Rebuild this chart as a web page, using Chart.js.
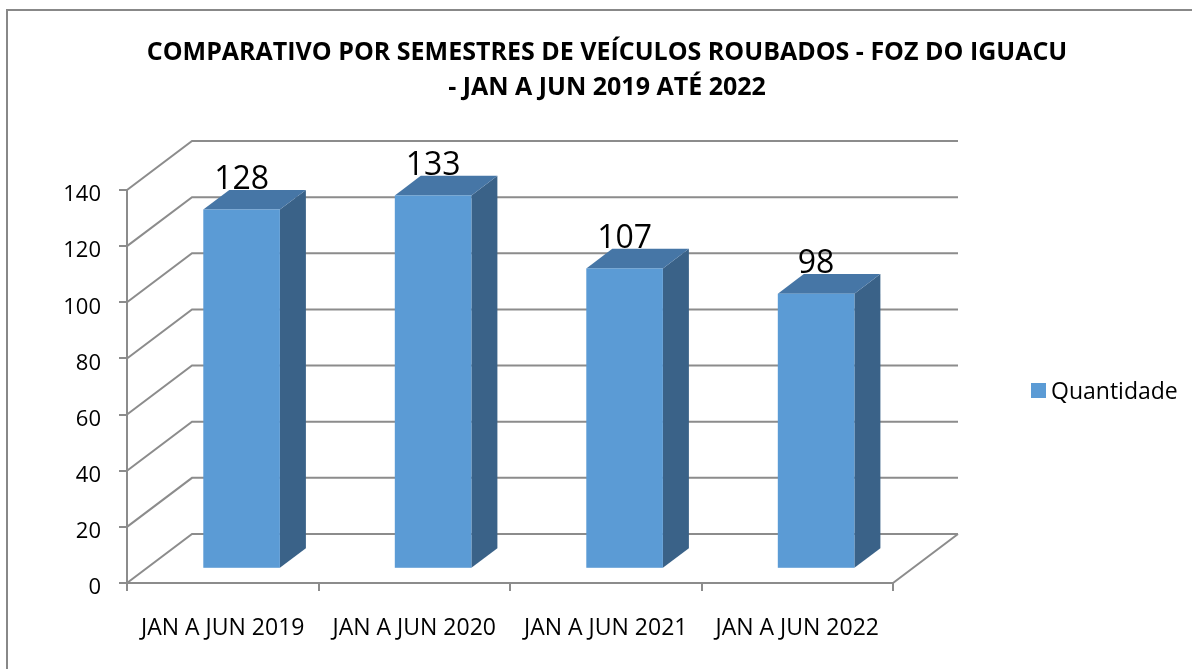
<!DOCTYPE html>
<html>
<head>
<meta charset="utf-8">
<script src="https://cdn.jsdelivr.net/npm/chart.js@4.4.1/dist/chart.umd.min.js"></script>
<style>
  html, body { margin: 0; padding: 0; background: #fff; }
  canvas { display: block; }
</style>
</head>
<body>
<canvas id="roubosChart" width="1192" height="669"></canvas>
<script>
// dados do grafico
const categorias = ['JAN A JUN 2019', 'JAN A JUN 2020', 'JAN A JUN 2021', 'JAN A JUN 2022'];
const quantidade = [128, 133, 107, 98];
const tituloLinhas = ['COMPARATIVO POR SEMESTRES DE VEÍCULOS ROUBADOS - FOZ DO IGUACU', '- JAN A JUN 2019 ATÉ 2022'];
const eixoY = { min: 0, max: 140, passo: 20 };

// aparencia 3d
const GRID = '#8c8c8c';
const DX = 65, DY = -49;       // profundidade da parede
const Z0 = 0.29, Z1 = 0.69;    // posicao das barras na profundidade
const FRONT = '#5B9BD5', TOPO = '#4676A6', LADO = '#3A6288';

const plot3d = {
  id: 'plot3d',
  beforeDraw(chart) {
    const ctx = chart.ctx;
    ctx.save();
    ctx.fillStyle = '#fff';
    ctx.fillRect(0, 0, chart.width, chart.height);
    ctx.strokeStyle = '#888';
    ctx.lineWidth = 2;
    ctx.strokeRect(7, 10, chart.width + 20, chart.height + 20);
    ctx.restore();
  },
  beforeDatasetsDraw(chart) {
    const { ctx, scales: { x, y } } = chart;
    ctx.save();
    // paredes e piso
    ctx.strokeStyle = GRID;
    ctx.lineWidth = 2;
    ctx.beginPath();
    y.ticks.forEach(t => {
      const py = y.getPixelForValue(t.value);
      ctx.moveTo(x.left, py);
      ctx.lineTo(x.left + DX, py + DY);
      ctx.lineTo(x.right + DX, py + DY);
    });
    ctx.moveTo(x.right, y.bottom);
    ctx.lineTo(x.right + DX, y.bottom + DY);
    ctx.stroke();

    // barras
    const meta = chart.getDatasetMeta(0);
    const valores = chart.data.datasets[0].data;
    const ox = Z0 * DX, oy = Z0 * DY;
    const dx = (Z1 - Z0) * DX, dy = (Z1 - Z0) * DY;
    meta.data.forEach((bar, i) => {
      const p = bar.getProps(['x', 'y', 'base', 'width']);
      const l = p.x - p.width / 2 + ox, r = p.x + p.width / 2 + ox;
      const t = p.y + oy, b = p.base + oy;

      ctx.fillStyle = LADO;
      ctx.beginPath();
      ctx.moveTo(r, t); ctx.lineTo(r + dx, t + dy);
      ctx.lineTo(r + dx, b + dy); ctx.lineTo(r, b);
      ctx.closePath(); ctx.fill();

      ctx.fillStyle = TOPO;
      ctx.beginPath();
      ctx.moveTo(l, t); ctx.lineTo(l + dx, t + dy);
      ctx.lineTo(r + dx, t + dy); ctx.lineTo(r, t);
      ctx.closePath(); ctx.fill();

      ctx.fillStyle = FRONT;
      ctx.fillRect(l, t, r - l, b - t);

      ctx.fillStyle = '#000';
      ctx.font = '32px "Open Sans"';
      ctx.textAlign = 'center';
      ctx.textBaseline = 'alphabetic';
      ctx.fillText(String(valores[i]), p.x + ox, t + dy - 1);
    });
    ctx.restore();
    return false;
  },
  afterDraw(chart) {
    // legenda
    const ctx = chart.ctx;
    const ds = chart.data.datasets[0];
    ctx.save();
    ctx.fillStyle = FRONT;
    ctx.fillRect(1031, 383, 15, 15);
    ctx.fillStyle = '#000';
    ctx.font = '23px "Open Sans"';
    ctx.textAlign = 'left';
    ctx.textBaseline = 'middle';
    ctx.fillText(ds.label, 1051, 392);
    ctx.restore();
  }
};

document.addEventListener('DOMContentLoaded', function () {
  const ctx = document.getElementById('roubosChart').getContext('2d');
  Chart.defaults.font.family = '"Open Sans", sans-serif';
  Chart.defaults.color = '#000';
  new Chart(ctx, {
    type: 'bar',
    data: {
      labels: categorias,
      datasets: [{
        label: 'Quantidade',
        data: quantidade,
        backgroundColor: FRONT,
        barPercentage: 0.5,
        categoryPercentage: 0.8
      }]
    },
    plugins: [plot3d],
    options: {
      responsive: false,
      animation: false,
      devicePixelRatio: 1,
      layout: { padding: { left: 22, right: 0, top: 0, bottom: 0 } },
      plugins: {
        legend: { display: false },
        tooltip: { enabled: false },
        title: {
          display: true,
          text: tituloLinhas,
          color: '#000',
          font: { size: 25, weight: 'bold', lineHeight: '35px' },
          padding: { top: 35, bottom: 85 }
        }
      },
      scales: {
        x: {
          offset: true,
          grid: { offset: true, drawOnChartArea: false, tickLength: 8, color: GRID, lineWidth: 2 },
          border: { color: GRID, width: 2 },
          ticks: { font: { size: 23 }, padding: 24, maxRotation: 0 },
          afterFit: s => { s.height = 86; }
        },
        y: {
          min: eixoY.min,
          max: eixoY.max,
          grid: { drawOnChartArea: false, tickLength: 8, color: GRID, lineWidth: 2 },
          border: { color: GRID, width: 2 },
          ticks: { stepSize: eixoY.passo, font: { size: 22 }, padding: 18, labelOffset: 5 },
          afterFit: s => { s.width = 105; }
        },
        espaco: {
          type: 'linear',
          position: 'right',
          display: true,
          grid: { display: false },
          border: { display: false },
          ticks: { display: false },
          afterFit: s => { s.width = 299; }
        }
      }
    }
  });
});
</script>
</body>
</html>
